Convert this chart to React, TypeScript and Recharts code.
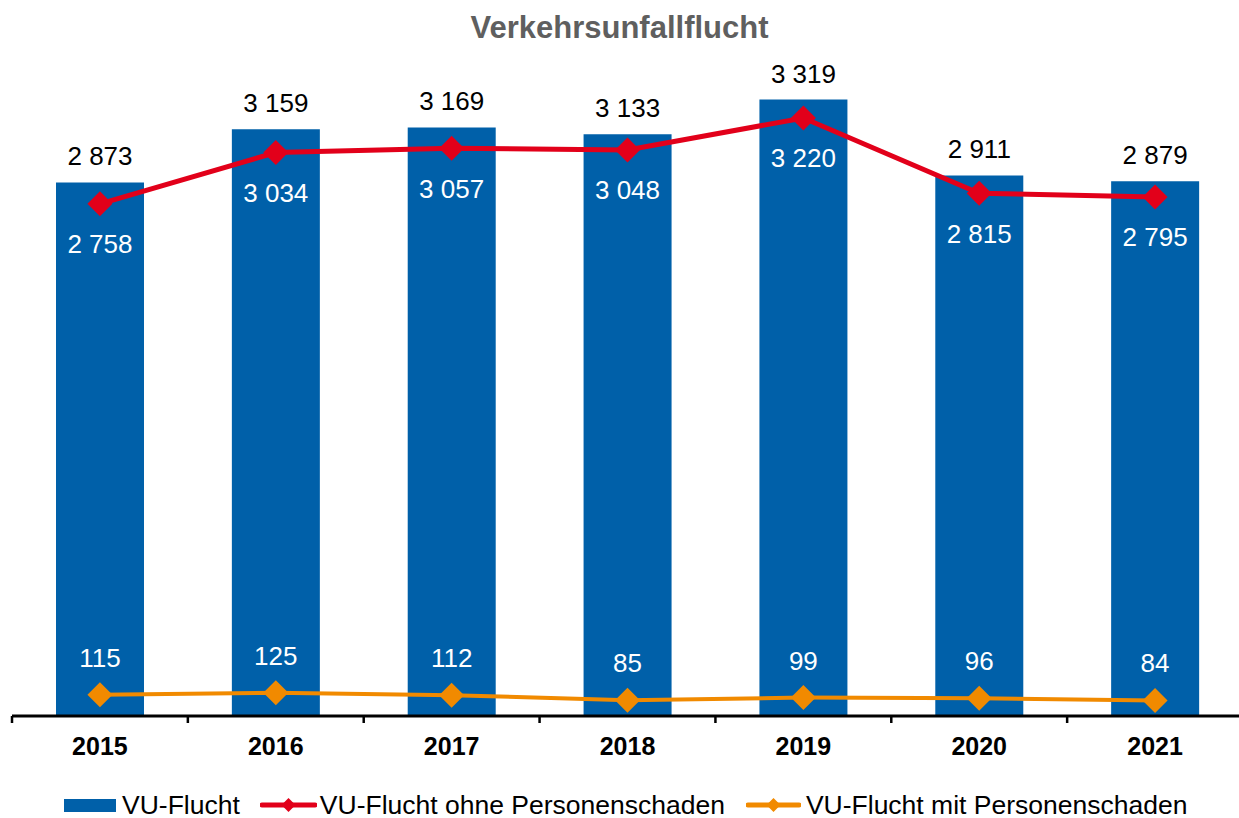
import { ComposedChart, Bar, Line, XAxis, YAxis, LabelList } from 'recharts'

const years = ['2015', '2016', '2017', '2018', '2019', '2020', '2021']
const vuFlucht = [2873, 3159, 3169, 3133, 3319, 2911, 2879]
const ohnePersonenschaden = [2758, 3034, 3057, 3048, 3220, 2815, 2795]
const mitPersonenschaden = [115, 125, 112, 85, 99, 96, 84]

const data = years.map((year, i) => ({
  year,
  total: vuFlucht[i],
  ohne: ohnePersonenschaden[i],
  mit: mitPersonenschaden[i],
}))

const BLUE = '#0060A9'
const RED = '#E2001A'
const ORANGE = '#F18A00'
const FONT = '"Liberation Sans", Arial, Helvetica, sans-serif'

const CHART_W = 1250
const CHART_H = 818
const MARGIN = { top: 66, right: 7, bottom: 0, left: 12 }
const BAND = (CHART_W - MARGIN.left - MARGIN.right) / years.length

// thousands separated by a space, like "3 319"
function fmt(v: any): string {
  return String(v).replace(/\B(?=(\d{3})+(?!\d))/g, ' ')
}

function YearTick({ x, y, payload }: any) {
  const left = x - BAND / 2
  return (
    <g>
      <line x1={left} x2={left} y1={y} y2={y + 7} stroke="#000" strokeWidth={2.5} />
      <text x={x} y={y + 39} textAnchor="middle" fontSize={25} fontWeight="bold" fill="#000" fontFamily={FONT}>
        {payload.value}
      </text>
    </g>
  )
}

function RedDot(p: any) {
  const { cx, cy } = p
  if (cx == null || cy == null) return null
  const s = 12.5
  return <path d={`M${cx},${cy - s} L${cx + s},${cy} L${cx},${cy + s} L${cx - s},${cy} Z`} fill={RED} />
}

function OrangeDot(p: any) {
  const { cx, cy } = p
  if (cx == null || cy == null) return null
  const s = 12.5
  return <path d={`M${cx},${cy - s} L${cx + s},${cy} L${cx},${cy + s} L${cx - s},${cy} Z`} fill={ORANGE} />
}

function LineIcon({ color, width, thickness }: { color: string, width: number, thickness: number }) {
  const c = width / 2
  return (
    <svg width={width} height={20} style={{ display: 'block' }}>
      <line x1={2} x2={width - 2} y1={10} y2={10} stroke={color} strokeWidth={thickness} strokeLinecap="round" />
      <path d={`M${c},3 L${c + 7},10 L${c},17 L${c - 7},10 Z`} fill={color} />
    </svg>
  )
}

function ChartLegend() {
  const text = { fontSize: 26.5, color: '#000', fontFamily: FONT, whiteSpace: 'nowrap' as const }
  return (
    <div style={{ position: 'absolute', left: 64, top: 787, height: 36, display: 'flex', alignItems: 'center' }}>
      <div style={{ width: 52, height: 13, background: BLUE, marginRight: 6 }} />
      <span style={text}>VU-Flucht</span>
      <div style={{ width: 20 }} />
      <div style={{ marginRight: 3 }}><LineIcon color={RED} width={57} thickness={5} /></div>
      <span style={text}>VU-Flucht ohne Personenschaden</span>
      <div style={{ width: 21 }} />
      <div style={{ marginRight: 5 }}><LineIcon color={ORANGE} width={55} thickness={5} /></div>
      <span style={text}>VU-Flucht mit Personenschaden</span>
    </div>
  )
}

export default function App() {
  return (
    <div style={{ position: 'absolute', left: 0, top: 0, width: 1239, height: 818, overflow: 'hidden', background: '#fff' }}>
      <div
        style={{
          position: 'absolute',
          top: 12,
          left: 0,
          width: 1239,
          textAlign: 'center',
          fontFamily: FONT,
          fontWeight: 'bold',
          fontSize: 31,
          lineHeight: '31px',
          color: '#5f5f5f',
        }}
      >
        Verkehrsunfallflucht
      </div>
      <ComposedChart width={CHART_W} height={CHART_H} data={data} margin={MARGIN}>
        <XAxis
          dataKey="year"
          height={102}
          axisLine={{ stroke: '#000', strokeWidth: 3 }}
          tickLine={false}
          interval={0}
          tick={<YearTick />}
          tickSize={0}
          tickMargin={0}
        />
        <YAxis hide domain={[0, 3500]} />
        <Bar dataKey="total" fill={BLUE} barSize={88} isAnimationActive={false}>
          <LabelList
            dataKey="total"
            position="top"
            offset={17}
            formatter={fmt}
            fill="#000"
            fontSize={26}
            fontFamily={FONT}
          />
        </Bar>
        <Line
          type="linear"
          dataKey="ohne"
          stroke={RED}
          strokeWidth={5}
          isAnimationActive={false}
          dot={<RedDot />}
          activeDot={false}
        >
          <LabelList
            dataKey="ohne"
            position="bottom"
            offset={31}
            formatter={fmt}
            fill="#fff"
            fontSize={26}
            fontFamily={FONT}
          />
        </Line>
        <Line
          type="linear"
          dataKey="mit"
          stroke={ORANGE}
          strokeWidth={4}
          isAnimationActive={false}
          dot={<OrangeDot />}
          activeDot={false}
        >
          <LabelList
            dataKey="mit"
            position="top"
            offset={28}
            formatter={fmt}
            fill="#fff"
            fontSize={26}
            fontFamily={FONT}
          />
        </Line>
      </ComposedChart>
      <ChartLegend />
    </div>
  )
}
